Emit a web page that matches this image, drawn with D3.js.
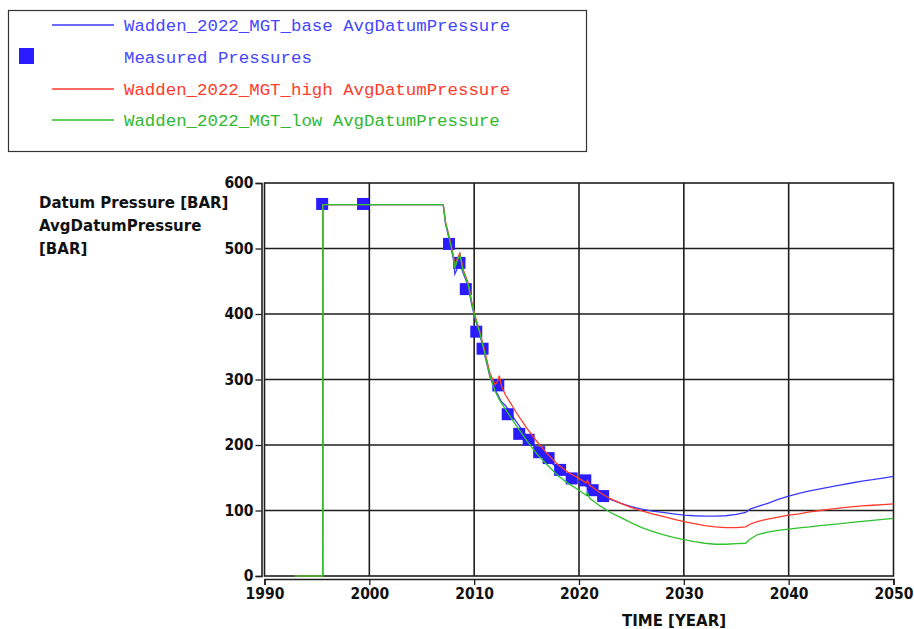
<!DOCTYPE html>
<html><head><meta charset="utf-8">
<script src="https://cdn.jsdelivr.net/npm/d3@7"></script>
<style>
body{margin:0;background:#fff;}
svg{display:block;}
</style></head>
<body>
<svg id="chart" width="914" height="629"></svg>
<script>
// ---- data ----
const xTicks = [1990, 2000, 2010, 2020, 2030, 2040, 2050];
const yTicks = [0, 100, 200, 300, 400, 500, 600];

const measuredYears = [1995.5, 1999.4, 2007.6, 2008.6, 2009.2, 2010.2, 2010.8, 2012.3, 2013.2, 2014.3, 2015.2, 2016.2, 2017.1, 2018.2, 2019.3, 2020.6, 2021.3, 2022.3];
const measuredPressures = [568, 568, 507, 478, 438, 373, 347, 291, 247, 217, 208, 189, 180, 162, 149, 146, 131, 122];

const historyYears = [1992.9, 1995.55, 1995.56, 2007.05, 2007.27, 2007.5, 2007.8, 2008.0, 2008.16, 2008.4, 2008.64, 2008.95, 2009.43, 2009.75, 2010.07, 2010.54, 2011.0, 2011.5, 2012.0, 2012.25, 2012.4, 2012.6];
const baseHistory = [0, 0, 567, 567, 538, 522, 500, 486, 461, 470, 478, 462, 443, 415, 394, 369, 338, 304, 284, 277, 272, 266];
const highHistory = [0, 0, 567, 567, 540, 526, 505, 490, 475, 485, 493, 468, 447, 420, 398, 373, 344, 310, 292, 298, 306, 290];
const lowHistory  = [0, 0, 567, 567, 539, 524, 503, 488, 470, 482, 490, 465, 445, 418, 396, 371, 340, 306, 282, 274, 269, 264];

const forecastYears = [2013, 2014, 2015, 2016, 2017, 2018, 2019, 2020, 2020.7, 2020.8, 2021, 2022, 2023, 2024, 2025, 2026, 2027, 2028, 2029, 2030, 2031, 2032, 2033, 2034, 2035, 2035.9, 2036.3, 2037, 2038, 2039, 2040, 2041, 2042, 2043, 2044, 2045, 2046, 2047, 2048, 2049, 2050];
const baseForecast = [260, 236, 213, 195, 178, 164, 152, 143, 137, 136, 133, 124, 117, 111, 106, 102, 99, 97, 95, 93, 92, 91.5, 91.5, 92, 94, 97, 102, 106, 111, 117, 122, 126, 130, 133, 136, 139, 142, 145, 147, 149.5, 152];
const highForecast = [276, 250, 226, 205, 186, 170, 158, 149, 142, 146, 139, 127, 118, 111, 104.5, 99.5, 95, 91, 87, 83, 80, 77, 75, 74, 74, 75, 79, 83, 87, 90, 93, 95, 98, 100, 102, 104, 105.5, 107, 108, 109, 110];
const lowForecast  = [254, 230, 207, 186, 169, 153, 141, 131, 123, 128, 119, 107, 97, 89, 81, 74, 68, 63, 59, 55.5, 52.5, 50, 48.5, 48.5, 49.5, 50, 56, 63, 67, 69.5, 71.5, 73.5, 75, 77, 78.5, 80, 82, 83.5, 85, 86.5, 88];

const legendLabels = ["Wadden_2022_MGT_base AvgDatumPressure", "Measured Pressures", "Wadden_2022_MGT_high AvgDatumPressure", "Wadden_2022_MGT_low AvgDatumPressure"];
const yAxisLabel = ["Datum Pressure [BAR]", "AvgDatumPressure", "[BAR]"];
const xAxisLabel = "TIME [YEAR]";

// ---- styles ----
const cBase = "#3a3aff", cHigh = "#ff3a28", cLow = "#2ec22e", cMeas = "#2a1cff";
const legendText = ["#4545ff", "#4545ff", "#ff3a2a", "#30b830"];
const tickFont = "'DejaVu Sans Condensed','DejaVu Sans',sans-serif";
const titleFont = "'DejaVu Sans',sans-serif";

const svg = d3.select("#chart");
const L = 264.5, R = 893.5, T = 183, B = 576;
const x = d3.scaleLinear().domain([1990, 2050]).range([L, R]);
const y = d3.scaleLinear().domain([0, 600]).range([B, T]);

// grid
svg.append("g").selectAll("line").data(xTicks.slice(1, -1)).join("line")
  .attr("x1", d => x(d)).attr("x2", d => x(d)).attr("y1", T).attr("y2", B)
  .attr("stroke", "#1e1e1e").attr("stroke-width", 1.6);
svg.append("g").selectAll("line").data(yTicks.slice(1, -1)).join("line")
  .attr("y1", d => y(d)).attr("y2", d => y(d)).attr("x1", L).attr("x2", R)
  .attr("stroke", "#1e1e1e").attr("stroke-width", 1.6);
// frame
svg.append("rect").attr("x", L).attr("y", T).attr("width", R - L).attr("height", B - T)
  .attr("fill", "none").attr("stroke", "#1e1e1e").attr("stroke-width", 1.6);

// axes (offset from frame)
const yAxis = d3.axisLeft(y).tickValues(yTicks).tickSize(6).tickPadding(2);
const gy = svg.append("g").attr("transform", `translate(${L - 3},0)`).call(yAxis);
const xAxis = d3.axisBottom(x).tickValues(xTicks).tickFormat(d3.format("d")).tickSize(6).tickPadding(3);
const gx = svg.append("g").attr("transform", `translate(0,${B + 3})`).call(xAxis);
[gx, gy].forEach(g => {
  g.select(".domain").attr("stroke", "#1e1e1e").attr("stroke-width", 1.6);
  g.selectAll(".tick line").attr("stroke", "#1e1e1e").attr("stroke-width", 1.3);
  g.selectAll("text").attr("font-family", tickFont).attr("font-weight", "bold")
    .attr("font-size", 15.5).attr("fill", "#111");
});

// axis titles
svg.append("g").selectAll("text").data(yAxisLabel).join("text")
  .attr("x", 39).attr("y", (d, i) => 208 + i * 23)
  .attr("font-family", titleFont).attr("font-weight", "bold").attr("font-size", 15)
  .attr("fill", "#111").text(d => d);
svg.append("text").attr("x", 674).attr("y", 626).attr("text-anchor", "middle")
  .attr("font-family", titleFont).attr("font-weight", "bold").attr("font-size", 15)
  .attr("fill", "#111").text(xAxisLabel);

// lines
const line = d3.line().x(d => x(d[0])).y(d => y(d[1]));
function series(hy, hv, fy, fv) {
  return hy.map((t, i) => [t, hv[i]]).concat(fy.map((t, i) => [t, fv[i]]));
}
const plot = svg.append("g");
plot.append("path").datum(series(historyYears, baseHistory, forecastYears, baseForecast))
  .attr("d", line).attr("fill", "none").attr("stroke", cBase).attr("stroke-width", 1.3);
plot.selectAll("rect.m").data(measuredYears.map((t, i) => [t, measuredPressures[i]])).join("rect")
  .attr("class", "m")
  .attr("x", d => x(d[0]) - 6).attr("y", d => y(d[1]) - 6).attr("width", 12).attr("height", 12)
  .attr("fill", cMeas);
plot.append("path").datum(series(historyYears, highHistory, forecastYears, highForecast))
  .attr("d", line).attr("fill", "none").attr("stroke", cHigh).attr("stroke-width", 1.3);
plot.append("path").datum(series(historyYears, lowHistory, forecastYears, lowForecast))
  .attr("d", line).attr("fill", "none").attr("stroke", cLow).attr("stroke-width", 1.3);

// legend
svg.append("rect").attr("x", 8.5).attr("y", 10.5).attr("width", 578).attr("height", 141)
  .attr("fill", "#fff").attr("stroke", "#333").attr("stroke-width", 1.2);
const rows = [25, 57, 89, 120];
const leg = svg.append("g");
[0, 2, 3].forEach(i => {
  leg.append("line").attr("x1", 52).attr("x2", 114).attr("y1", rows[i]).attr("y2", rows[i])
    .attr("stroke", [cBase, null, cHigh, cLow][i]).attr("stroke-width", 1.3);
});
leg.append("rect").attr("x", 19).attr("y", 48).attr("width", 15).attr("height", 16).attr("fill", cMeas);
leg.selectAll("text").data(legendLabels).join("text")
  .attr("x", 124).attr("y", (d, i) => rows[i]).attr("dy", "0.35em")
  .attr("font-family", "'Liberation Mono','Courier New',monospace").attr("font-size", 17.4)
  .attr("fill", (d, i) => legendText[i]).text(d => d);
</script>
</body></html>
